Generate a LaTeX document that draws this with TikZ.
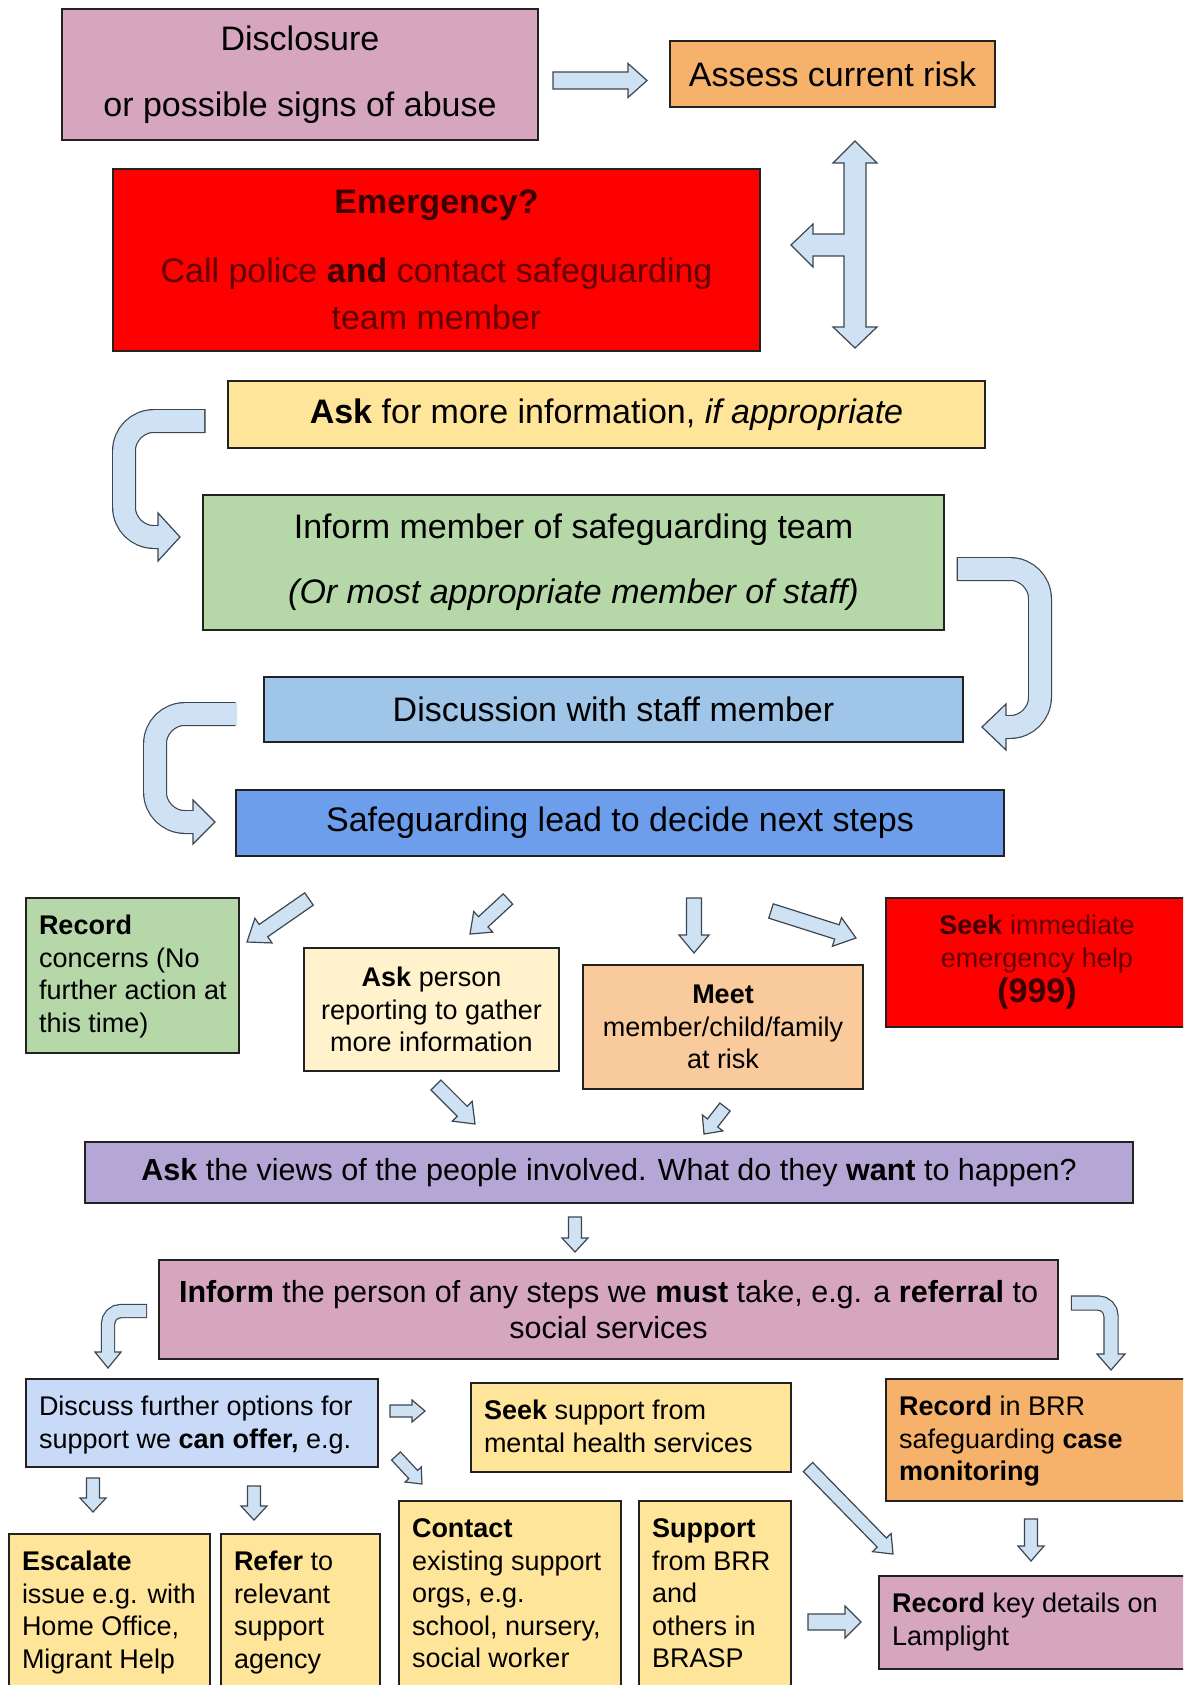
\documentclass[tikz,border=0pt]{standalone}
\usepackage{fontspec}
\setmainfont{Liberation Sans}
\usetikzlibrary{calc}
\definecolor{cpink}{HTML}{D5A6BD}
\definecolor{corange}{HTML}{F6B26B}
\definecolor{cred}{HTML}{FF0000}
\definecolor{cyellow}{HTML}{FFE599}
\definecolor{cgreen}{HTML}{B6D7A8}
\definecolor{cblueA}{HTML}{9FC5E8}
\definecolor{cblueB}{HTML}{6D9EEB}
\definecolor{cpale}{HTML}{FFF2CC}
\definecolor{cpeach}{HTML}{F9CB9C}
\definecolor{cpurple}{HTML}{B4A7D6}
\definecolor{cpaleblue}{HTML}{C9DAF8}
\definecolor{afill}{HTML}{CFE2F3}
\definecolor{aline}{HTML}{3C4650}
\definecolor{bline}{HTML}{222222}
\definecolor{dredA}{HTML}{3A0000}
\definecolor{dredB}{HTML}{620000}
\tikzset{
  box/.style={draw=bline, line width=2pt, anchor=north west, inner sep=0pt, outer sep=0pt, align=center},
  bigtxt/.style={font=\fontsize{34pt}{47pt}\selectfont},
  midtxt/.style={font=\fontsize{30.5pt}{36pt}\selectfont},
  smalltxt/.style={font=\fontsize{27pt}{32.5pt}\selectfont},
  arr/.style={fill=afill, draw=aline, line width=1.2pt, line join=miter},
  arrout/.style={draw=aline, line width=#1},
  arrin/.style={draw=afill, line width=#1},
}
% left/top aligned box: name, fill, x, y, w, h, text
\newcommand\lbox[7]{%
  \node[box, fill=#2, inner xsep=13pt, inner ysep=14pt] (#1) at (#3,#4)
    {\parbox[c][\dimexpr#6pt-28pt\relax][t]{\dimexpr#5pt-26pt\relax}{\fontsize{27pt}{32.5pt}\selectfont\begin{tabular}[t]{@{}l@{}}#7\end{tabular}}};%
}
% straight block arrow: start, end, half shaft, half head, head length
\newcommand\sarr[5]{%
  \coordinate (hb) at ($(#2)!#5!(#1)$);
  \filldraw[arr] ($(#1)!#3!90:(#2)$) -- ($(hb)!#3!90:(#2)$) -- ($(hb)!#4!90:(#2)$) -- (#2)
    -- ($(hb)!#4!-90:(#2)$) -- ($(hb)!#3!-90:(#2)$) -- ($(#1)!#3!-90:(#2)$) -- cycle;%
}
\begin{document}
\begin{tikzpicture}[x=1pt,y=-1pt]
\useasboundingbox (0,0) rectangle (1183,1685);
\clip (0,0) rectangle (1183,1685);
\fill[white] (0,0) rectangle (1183,1685);

% ---------- boxes ----------
\node[box, bigtxt, fill=cpink, minimum width=476pt, minimum height=131pt] (disc) at (62,9)
  {Disclosure\\[19pt]or possible signs of abuse};
\node[box, bigtxt, fill=corange, minimum width=325pt, minimum height=66pt] (assess) at (670,41)
  {Assess current risk};
\node[box, bigtxt, fill=cred, text=dredB, minimum width=647pt, minimum height=182pt] (emerg) at (113,169)
  {\textcolor{dredA}{\textbf{Emergency?}}\\[22pt]Call police \textcolor{dredA}{\textbf{and}} contact safeguarding\\team member};
\node[box, bigtxt, fill=cyellow, minimum width=757pt, minimum height=67pt] (askmore) at (228,381)
  {\textbf{Ask} for more information, \textit{if appropriate}};
\node[box, bigtxt, fill=cgreen, minimum width=741pt, minimum height=135pt] (inform) at (203,495)
  {Inform member of safeguarding team\\[18pt]\textit{(Or most appropriate member of staff)}};
\node[box, bigtxt, fill=cblueA, minimum width=699pt, minimum height=65pt] (discuss) at (264,677)
  {Discussion with staff member};
\node[box, bigtxt, fill=cblueB, minimum width=768pt, minimum height=66pt] (lead) at (236,790)
  {Safeguarding lead to decide next steps};

\lbox{record}{cgreen}{26}{898}{213}{155}{\textbf{Record}\\concerns (No\\further action at\\this time)}
\node[box, smalltxt, fill=cpale, minimum width=255pt, minimum height=123pt] (askperson) at (304,948)
  {\textbf{Ask} person\\reporting to gather\\more information};
\node[box, smalltxt, fill=cpeach, minimum width=280pt, minimum height=124pt] (meet) at (583,965)
  {\textbf{Meet}\\member/child/family\\at risk};
\node[box, smalltxt, fill=cred, text=dredB, minimum width=302pt, minimum height=129pt] (seek999) at (886,898)
  {\textcolor{dredA}{\textbf{Seek}} immediate\\emergency help\\[3pt]{\fontsize{34pt}{38pt}\selectfont\textcolor{dredA}{\textbf{(999)}}}};

\node[box, midtxt, fill=cpurple, minimum width=1048pt, minimum height=61pt] (views) at (85,1142)
  {\textbf{Ask} the views of the people involved. What do they \textbf{want} to happen?};
\node[box, midtxt, fill=cpink, minimum width=899pt, minimum height=99pt] (informp) at (159,1260)
  {\textbf{Inform} the person of any steps we \textbf{must} take, e.g. a \textbf{referral} to\\social services};

\lbox{discopt}{cpaleblue}{26}{1379}{352}{88}{Discuss further options for\\support we \textbf{can offer,} e.g.}
\lbox{seekmh}{cyellow}{471}{1383}{320}{89}{\textbf{Seek} support from\\mental health services}
\lbox{recbrr}{corange}{886}{1379}{310}{122}{\textbf{Record} in BRR\\safeguarding \textbf{case}\\\textbf{monitoring}}
\lbox{escalate}{cyellow}{9}{1534}{201}{170}{\textbf{Escalate}\\issue e.g. with\\Home Office,\\Migrant Help}
\lbox{refer}{cyellow}{221}{1534}{159}{170}{\textbf{Refer} to\\relevant\\support\\agency}
\lbox{contact}{cyellow}{399}{1501}{222}{200}{\textbf{Contact}\\existing support\\orgs, e.g.\\school, nursery,\\social worker}
\lbox{support}{cyellow}{639}{1501}{152}{200}{\textbf{Support}\\from BRR\\and\\others in\\BRASP}
\lbox{reckey}{cpink}{879}{1576}{310}{93}{\textbf{Record} key details on\\Lamplight}

% ---------- straight arrows ----------
\coordinate (a1s) at (553,80.5);  \coordinate (a1e) at (647,80.5);
\sarr{a1s}{a1e}{8.5pt}{17pt}{19pt}
\coordinate (l1s) at (309,899);   \coordinate (l1e) at (247,942);
\sarr{l1s}{l1e}{7.5pt}{15pt}{20pt}
\coordinate (l2s) at (508,899);   \coordinate (l2e) at (470,934);
\sarr{l2s}{l2e}{7pt}{14pt}{18pt}
\coordinate (l3s) at (694,898);   \coordinate (l3e) at (694,953);
\sarr{l3s}{l3e}{7.5pt}{15pt}{18pt}
\coordinate (l4s) at (771,911);   \coordinate (l4e) at (856,938);
\sarr{l4s}{l4e}{7.5pt}{15pt}{20pt}
\coordinate (e1s) at (436,1085);  \coordinate (e1e) at (475,1124);
\sarr{e1s}{e1e}{7pt}{14pt}{18pt}
\coordinate (e2s) at (725,1107);  \coordinate (e2e) at (704,1134);
\sarr{e2s}{e2e}{6.5pt}{13pt}{14pt}
\coordinate (gs) at (575,1217);   \coordinate (ge) at (575,1252);
\sarr{gs}{ge}{6.5pt}{13pt}{14pt}
\coordinate (hs) at (390,1411);   \coordinate (he) at (425,1411);
\sarr{hs}{he}{6pt}{11pt}{13pt}
\coordinate (is) at (396,1456);   \coordinate (ie) at (422,1484);
\sarr{is}{ie}{6pt}{11pt}{13pt}
\coordinate (js) at (93,1478);    \coordinate (je) at (93,1512);
\sarr{js}{je}{6.5pt}{13pt}{14pt}
\coordinate (ks) at (254,1486);   \coordinate (ke) at (254,1520);
\sarr{ks}{ke}{6.5pt}{13pt}{14pt}
\coordinate (lgs) at (808,1467);  \coordinate (lge) at (893,1554);
\sarr{lgs}{lge}{6.5pt}{13pt}{16pt}
\coordinate (ms) at (1031,1519);  \coordinate (me) at (1031,1561);
\sarr{ms}{me}{6.5pt}{13pt}{15pt}
\coordinate (ns) at (808,1622);   \coordinate (ne) at (861,1622);
\sarr{ns}{ne}{8pt}{16pt}{16pt}

% ---------- T-shaped double arrow ----------
\filldraw[arr] (855,141) -- (877,163) -- (866,163) -- (866,327) -- (877,327) -- (855,348)
  -- (833,327) -- (844,327) -- (844,256) -- (813,256) -- (813,267) -- (791,245)
  -- (813,224) -- (813,234) -- (844,234) -- (844,163) -- (833,163) -- cycle;

% ---------- curved arrows ----------
% Ask more -> Inform
\draw[arrout=24pt, rounded corners=30pt] (205.5,421) -- (124,421) -- (124,537) -- (158,537);
\filldraw[arr] (158,513) -- (180,537) -- (158,561) -- cycle;
\draw[arrin=21.6pt, rounded corners=30pt] (204,421) -- (124,421) -- (124,537) -- (159.5,537);
% Inform -> Discussion
\draw[arrout=24pt, rounded corners=30pt] (956.5,569) -- (1040,569) -- (1040,727) -- (1006,727);
\filldraw[arr] (1006,704) -- (982,727) -- (1006,750) -- cycle;
\draw[arrin=21.6pt, rounded corners=30pt] (958,569) -- (1040,569) -- (1040,727) -- (1004.5,727);
% Discussion -> Safeguarding lead
\draw[arrout=24pt, rounded corners=30pt] (235.5,714) -- (155,714) -- (155,822) -- (193,822);
\filldraw[arr] (193,800) -- (215,822) -- (193,844) -- cycle;
\draw[arrin=21.6pt, rounded corners=30pt] (237,714) -- (155,714) -- (155,822) -- (194.5,822);
% Inform person -> Discuss options
\draw[arrout=14.4pt, rounded corners=13pt] (147.2,1311) -- (108,1311) -- (108,1352);
\filldraw[arr] (95,1352) -- (108,1368) -- (121,1352) -- cycle;
\draw[arrin=12pt, rounded corners=13pt] (146,1311) -- (108,1311) -- (108,1353.5);
% Inform person -> Record in BRR
\draw[arrout=15.4pt, rounded corners=13pt] (1070.8,1303) -- (1111,1303) -- (1111,1354);
\filldraw[arr] (1097,1354) -- (1111,1370) -- (1125,1354) -- cycle;
\draw[arrin=13pt, rounded corners=13pt] (1072,1303) -- (1111,1303) -- (1111,1355.5);
\end{tikzpicture}
\end{document}
